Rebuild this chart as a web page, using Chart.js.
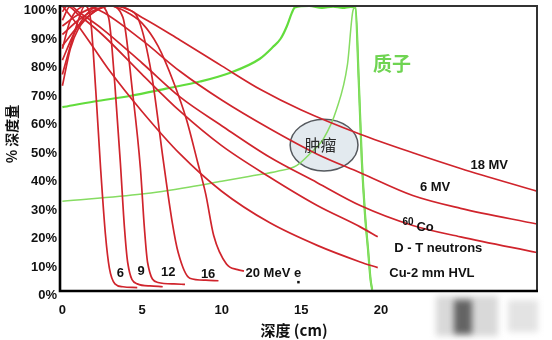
<!DOCTYPE html>
<html>
<head>
<meta charset="utf-8">
<script src="https://cdn.jsdelivr.net/npm/chart.js@4.4.1/dist/chart.umd.min.js"></script>
<style>
    html, body { margin: 0; padding: 0; background: #fff; }
    #wrap { width: 552px; height: 340px; position: relative; }
</style>
</head>
<body>
<div id="wrap"><canvas id="canvas" width="552" height="340"></canvas></div>
<script>
// depth (cm) / dose (%) pairs for every curve
var e6Depth = [0, 0.5, 1.0, 1.4, 1.75, 2.1, 2.4, 2.7, 2.95, 3.3, 3.8, 4.7];
var e6Dose = [76, 86, 95, 100, 96, 70, 43, 20, 8, 2.5, 1.5, 1.2];

var e9Depth = [0, 0.7, 1.5, 2.3, 2.9, 3.3, 3.64, 3.9, 4.1, 4.7, 5.5, 6.3];
var e9Dose = [81, 90, 97, 100, 96, 72, 45, 22, 10, 2.5, 1.8, 1.5];

var e12Depth = [0, 1, 2, 3, 3.8, 4.4, 4.9, 5.15, 5.35, 6.0, 7.0, 7.7];
var e12Dose = [86, 93, 98, 100, 96, 70, 43, 22, 10, 3, 2.5, 2.3];

var e16Depth = [0, 1, 2, 3, 4, 4.8, 5.6, 6.33, 6.9, 7.27, 8.0, 9.0, 9.8];
var e16Dose = [90, 95, 98.5, 100, 99, 95, 76, 46, 24, 13.5, 4.5, 3.8, 3.6];

var e20Depth = [0, 1, 2, 3, 4, 5, 6, 7, 7.8, 8.5, 9.0, 9.5, 10.3, 11.0, 11.4];
var e20Dose = [93, 97, 99.5, 100, 98, 94, 86, 73, 60, 45, 34, 19.5, 9.5, 7.5, 7];

var mv18Depth = [0, 0.5, 1, 2, 3, 3.5, 5, 7.4, 10, 12.5, 15, 18.7, 22, 25, 29.8];
var mv18Dose = [72, 85, 92, 98, 100, 100, 96, 88, 79, 70.5, 63.5, 55, 48.5, 43, 35];

var mv6Depth = [0, 0.5, 1.5, 2.5, 5, 7.4, 10, 13, 16, 18.7, 22, 25, 29.8];
var mv6Dose = [85, 95, 100, 98, 88, 77, 67, 57, 48, 41.5, 33.5, 29, 23.5];

var coDepth = [0, 0.5, 1, 2.5, 5, 7.4, 10, 13, 16, 18.7, 22, 25, 29.8];
var coDose = [95, 100, 98, 92, 80, 68, 58, 47, 38, 30, 23, 19, 13.5];

var dtDepth = [0, 0.3, 1, 2.5, 5, 7.4, 10, 13, 16, 18.7, 19.8];
var dtDose = [98, 100, 97, 90, 76, 63, 51, 40, 30, 22.5, 19];

var cuDepth = [0, 1, 2, 3, 5, 7.4, 10, 13, 16, 18.7, 19.8];
var cuDose = [100, 93, 85, 77, 63, 48, 35, 24, 16, 10.2, 8.2];

// proton: spread-out peak and single Bragg peak
var sobpDepth = [0, 2, 4.3, 6.5, 8.65, 10.5, 12.4, 13.2, 13.7, 14.1, 14.4, 14.6, 15.5, 16.3, 17, 17.6, 18.1, 18.4, 18.6, 18.8, 19.0, 19.2, 19.35, 19.45];
var sobpDose = [64.5, 66.5, 68.5, 71, 73.5, 76.5, 81.5, 85.5, 88.5, 93, 97.5, 99.5, 100, 99.3, 99.8, 99.3, 99.7, 99.5, 75, 46, 27, 14, 4, 0.5];

var braggDepth = [0, 5, 8, 10, 12, 13.5, 14.7, 15.6, 16.4, 17.2, 17.9, 18.25, 18.4, 18.6, 18.8, 19.0, 19.2, 19.35, 19.45];
var braggDose = [31.5, 34, 36.5, 38.5, 40.5, 42, 44, 48.5, 53.5, 63.5, 79.5, 98.5, 99.5, 75, 46, 27, 14, 4, 0.5];

var xTicks = [0, 5, 10, 15, 20];
var yTicks = [0, 10, 20, 30, 40, 50, 60, 70, 80, 90, 100];

// curve labels, placed in depth / dose units
var curveLabels = [
    {text: '18 MV', x: 26.8, y: 44.2},
    {text: '6 MV', x: 23.4, y: 36.3},
    {text: 'D - T neutrons', x: 23.6, y: 15},
    {text: 'Cu-2 mm HVL', x: 23.2, y: 6.3},
    {text: '6', x: 3.64, y: 6},
    {text: '9', x: 4.95, y: 6.7},
    {text: '12', x: 6.65, y: 6.4},
    {text: '16', x: 9.15, y: 5.7}
];

var RED = '#d0242c';
var GREEN = '#62dc3c';

function pairs(xs, ys) {
    var out = [];
    for (var i = 0; i < xs.length; i++) {
        out.push({x: xs[i], y: ys[i]});
    }
    return out;
}

function curve(label, xs, ys, color, width) {
    return {
        label: label,
        data: pairs(xs, ys),
        showLine: true,
        borderColor: color,
        backgroundColor: color,
        borderWidth: width,
        pointRadius: 0,
        cubicInterpolationMode: 'monotone',
        fill: false
    };
}

var datasets = [
    curve('18 MV', mv18Depth, mv18Dose, RED, 1.7),
    curve('6 MV', mv6Depth, mv6Dose, RED, 1.7),
    curve('60Co', coDepth, coDose, RED, 1.7),
    curve('D-T neutrons', dtDepth, dtDose, RED, 1.7),
    curve('Cu-2 mm HVL', cuDepth, cuDose, RED, 1.7),
    curve('6 MeV', e6Depth, e6Dose, RED, 1.7),
    curve('9 MeV', e9Depth, e9Dose, RED, 1.7),
    curve('12 MeV', e12Depth, e12Dose, RED, 1.7),
    curve('16 MeV', e16Depth, e16Dose, RED, 1.7),
    curve('20 MeV', e20Depth, e20Dose, RED, 1.7),
    curve('Bragg', braggDepth, braggDose, '#86dc62', 1.5),
    curve('SOBP', sobpDepth, sobpDose, GREEN, 2.2)
];

var LABEL_FONT = 'bold 13px "Liberation Sans", Arial, sans-serif';
var TICK_FONT = {family: '"Liberation Sans", Arial, sans-serif', size: 13, weight: 'bold', lineHeight: '9px'};

// tumour ellipse, labels, frame and axis titles
var decorPlugin = {
    id: 'decor',
    beforeDatasetsDraw: function (chart) {
        var ctx = chart.ctx;
        var xs = chart.scales.x, ys = chart.scales.y;
        var cx = xs.getPixelForValue(16.43), cy = ys.getPixelForValue(51.2);
        var rx = xs.getPixelForValue(16.43 + 2.13) - cx;
        var ry = cy - ys.getPixelForValue(51.2 + 9.1);
        ctx.save();
        ctx.beginPath();
        ctx.ellipse(cx, cy, rx, ry, 0, 0, Math.PI * 2);
        ctx.fillStyle = '#e3eaef';
        ctx.fill();
        ctx.lineWidth = 1.5;
        ctx.strokeStyle = '#55595e';
        ctx.stroke();
        ctx.restore();
    },
    afterDatasetsDraw: function (chart) {
        var ctx = chart.ctx;
        var xs = chart.scales.x, ys = chart.scales.y;
        var left = xs.left, right = xs.right, top = ys.top, bottom = ys.bottom;
        ctx.save();

        // tumour label drawn over the lines
        ctx.fillStyle = '#2a2a2a';
        ctx.font = '16px "Noto Sans CJK SC", sans-serif';
        ctx.textAlign = 'center';
        ctx.textBaseline = 'middle';
        ctx.fillText('肿瘤', xs.getPixelForValue(16.2), ys.getPixelForValue(51.2));

        // frame
        ctx.strokeStyle = '#333333';
        ctx.lineWidth = 2;
        ctx.beginPath();
        ctx.moveTo(left, top);
        ctx.lineTo(right, top);
        ctx.lineTo(right, bottom);
        ctx.stroke();
        ctx.strokeStyle = '#000000';
        ctx.lineWidth = 2.6;
        ctx.beginPath();
        ctx.moveTo(left, top - 1);
        ctx.lineTo(left, bottom);
        ctx.lineTo(right + 1, bottom);
        ctx.stroke();

        // curve labels
        ctx.fillStyle = '#111';
        ctx.font = LABEL_FONT;
        curveLabels.forEach(function (l) {
            ctx.fillText(l.text, xs.getPixelForValue(l.x), ys.getPixelForValue(l.y));
        });

        // 60Co with raised mass number
        var px = xs.getPixelForValue(21.35), py = ys.getPixelForValue(24.2);
        ctx.textAlign = 'left';
        ctx.font = 'bold 10px "Liberation Sans", Arial, sans-serif';
        ctx.fillText('60', px, py);
        ctx.font = LABEL_FONT;
        ctx.fillText('Co', px + 14, py + 5);

        // 20 MeV e with its dot
        px = xs.getPixelForValue(11.5);
        py = ys.getPixelForValue(6);
        ctx.fillText('20 MeV e', px, py);
        var w = ctx.measureText('20 MeV e').width;
        ctx.fillRect(px + w - 4, py + 7, 2.5, 2.5);

        // proton label
        ctx.fillStyle = '#6fd452';
        ctx.font = 'bold 19px "Noto Sans CJK SC", sans-serif';
        ctx.textAlign = 'center';
        ctx.fillText('质子', xs.getPixelForValue(20.7), ys.getPixelForValue(79.6));

        // axis titles
        ctx.fillStyle = '#111';
        ctx.font = 'bold 15px "Noto Sans CJK SC", sans-serif';
        ctx.fillText('深度 (cm)', 294, 330);
        ctx.translate(12, 134);
        ctx.rotate(-Math.PI / 2);
        ctx.font = 'bold 14px "Noto Sans CJK SC", sans-serif';
        ctx.fillText('% 深度量', 0, 0);
        ctx.restore();

        // smudged stamp in the lower right corner
        ctx.save();
        ctx.filter = 'blur(3px)';
        ctx.fillStyle = 'rgba(160,160,160,0.4)';
        ctx.fillRect(436, 296, 62, 40);
        ctx.fillStyle = 'rgba(50,50,50,0.7)';
        ctx.fillRect(454, 300, 18, 34);
        ctx.fillStyle = 'rgba(175,175,175,0.35)';
        ctx.fillRect(508, 300, 30, 32);
        ctx.restore();
    }
};

const CHART = document.getElementById('canvas');
var doseChart = new Chart(CHART, {
    type: 'scatter',
    data: {datasets: datasets},
    options: {
        responsive: false,
        animation: false,
        events: [],
        layout: {padding: {left: 0, right: 15, top: 6, bottom: 0}},
        plugins: {
            legend: {display: false},
            tooltip: {enabled: false}
        },
        scales: {
            x: {
                type: 'linear',
                min: -0.15,
                max: 29.8,
                afterBuildTicks: function (axis) {
                    axis.ticks = xTicks.map(function (v) { return {value: v}; });
                },
                afterFit: function (axis) {
                    axis.height = 49;
                    axis.paddingLeft = 0;
                    axis.paddingRight = 0;
                },
                grid: {display: false, drawTicks: false},
                border: {display: false},
                ticks: {
                    color: '#111',
                    padding: 12,
                    maxRotation: 0,
                    font: {family: '"Liberation Sans", Arial, sans-serif', size: 13, weight: 'bold'}
                }
            },
            y: {
                min: 0,
                max: 100,
                afterBuildTicks: function (axis) {
                    axis.ticks = yTicks.map(function (v) { return {value: v}; });
                },
                afterFit: function (axis) {
                    axis.width = 60;
                    axis.paddingTop = 0;
                    axis.paddingBottom = 0;
                },
                grid: {display: false, drawTicks: false},
                border: {display: false},
                ticks: {
                    color: '#111',
                    padding: 3,
                    font: TICK_FONT,
                    // empty first line drops each label a few pixels below its tick
                    callback: function (v) { return ['', v + '%']; }
                }
            }
        }
    },
    plugins: [decorPlugin]
});
</script>
</body>
</html>
